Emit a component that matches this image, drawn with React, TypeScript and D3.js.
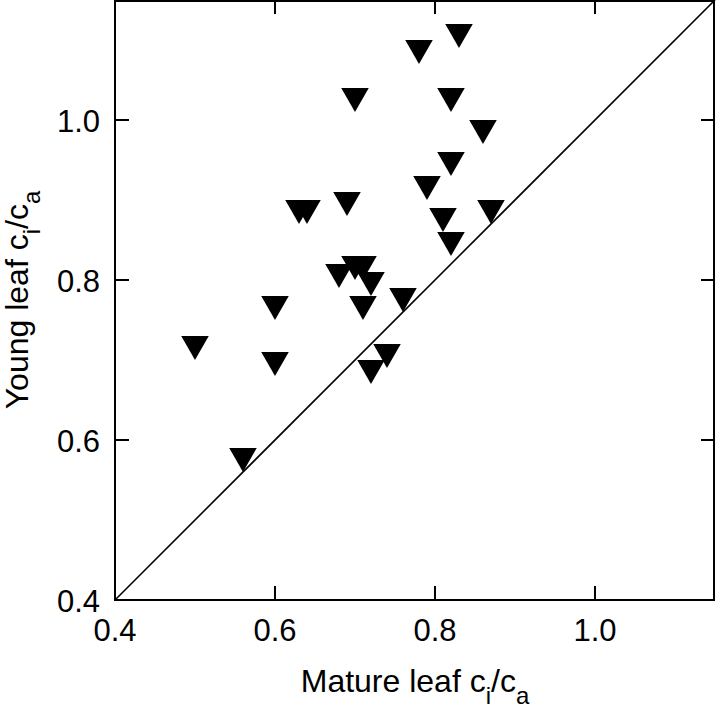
import React from "react";
import * as d3 from "d3";

const matureCiCa = [0.50, 0.56, 0.60, 0.60, 0.63, 0.64, 0.69, 0.68, 0.70, 0.71, 0.72, 0.71, 0.76, 0.74, 0.72, 0.70, 0.83, 0.78, 0.82, 0.86, 0.82, 0.79, 0.81, 0.87, 0.82];
const youngCiCa = [0.72, 0.58, 0.77, 0.70, 0.89, 0.89, 0.90, 0.81, 0.82, 0.82, 0.80, 0.77, 0.78, 0.71, 0.69, 1.03, 1.11, 1.09, 1.03, 0.99, 0.95, 0.92, 0.88, 0.89, 0.85];
const xTicks = [0.4, 0.6, 0.8, 1.0];
const yTicks = [0.4, 0.6, 0.8, 1.0];
const domain: [number, number] = [0.4, 1.15];

export default function App() {
  const W = 716, H = 710;
  const left = 115, right = 715, top = 0, bottom = 600;
  const x = d3.scaleLinear().domain(domain).range([left, right]);
  const y = d3.scaleLinear().domain(domain).range([bottom, top]);
  const tri = d3.symbol().type(d3.symbolTriangle).size(328)()!;
  const font = "'Liberation Sans', Arial, Helvetica, sans-serif";
  const tickLen = 14;
  const data = matureCiCa.map((m, i) => ({ m, yv: youngCiCa[i] }));
  return (
    <svg width={W} height={H} style={{ position: "absolute", left: 0, top: 0, background: "#fff" }} fontFamily={font}>
      <line x1={x(domain[0])} y1={y(domain[0])} x2={x(domain[1])} y2={y(domain[1])} stroke="#000" strokeWidth={1.6} />
      {data.map((d, i) => (
        <path key={i} d={tri} transform={`translate(${x(d.m)},${y(d.yv)}) rotate(180)`} fill="#000" />
      ))}
      <rect x={left} y={top + 1} width={right - left - 1} height={bottom - top - 1} fill="none" stroke="#000" strokeWidth={2} />
      {xTicks.map((t) => (
        <g key={"x" + t}>
          {t > domain[0] && (
            <>
              <line x1={x(t)} x2={x(t)} y1={bottom} y2={bottom - tickLen} stroke="#000" strokeWidth={2} />
              <line x1={x(t)} x2={x(t)} y1={top} y2={top + tickLen} stroke="#000" strokeWidth={2} />
            </>
          )}
          <text x={x(t)} y={641} textAnchor="middle" fontSize={31} fill="#000">{t.toFixed(1)}</text>
        </g>
      ))}
      {yTicks.map((t) => (
        <g key={"y" + t}>
          {t > domain[0] && (
            <>
              <line x1={left} x2={left + tickLen} y1={y(t)} y2={y(t)} stroke="#000" strokeWidth={2} />
              <line x1={right} x2={right - tickLen} y1={y(t)} y2={y(t)} stroke="#000" strokeWidth={2} />
            </>
          )}
          <text x={100} y={y(t) + 12} textAnchor="end" fontSize={31} fill="#000">{t.toFixed(1)}</text>
        </g>
      ))}
      <text x={(left + right) / 2} y={692} textAnchor="middle" fontSize={32} fill="#000">
        Mature leaf c<tspan fontSize={24} dy={12}>i</tspan><tspan dy={-12}>/c</tspan><tspan fontSize={24} dy={12}>a</tspan>
      </text>
      <text transform={`translate(28,${(top + bottom) / 2}) rotate(-90)`} textAnchor="middle" fontSize={32} fill="#000">
        Young leaf c<tspan fontSize={24} dy={12}>i</tspan><tspan dy={-12}>/c</tspan><tspan fontSize={24} dy={12}>a</tspan>
      </text>
    </svg>
  );
}
